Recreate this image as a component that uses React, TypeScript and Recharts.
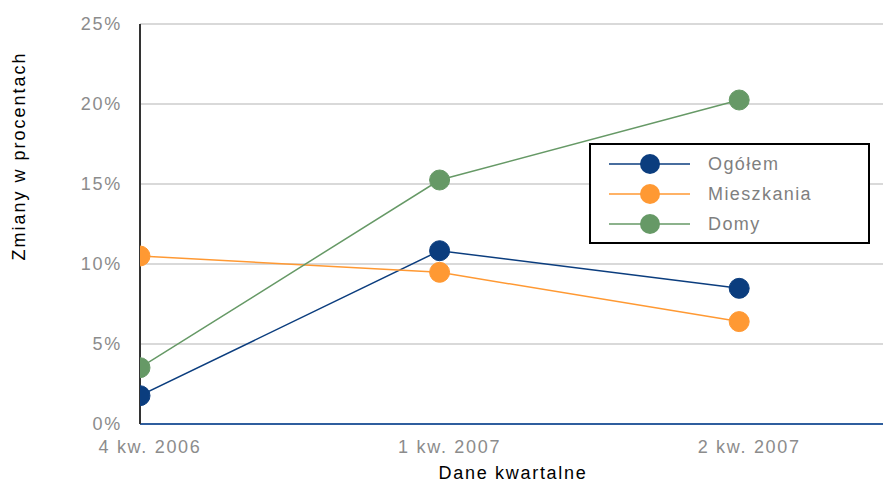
import React from 'react';
import { LineChart, Line, XAxis, YAxis, CartesianGrid, Legend, Label } from 'recharts';

const quarters = ['4 kw. 2006', '1 kw. 2007', '2 kw. 2007'];
const ogolem = [1.77, 10.83, 8.48];
const mieszkania = [10.5, 9.48, 6.4];
const domy = [3.52, 15.25, 20.25];
const yTicks = [0, 5, 10, 15, 20, 25];

const SERIES = [
  { key: 'ogolem', name: 'Ogółem', color: '#0b3d7e' },
  { key: 'mieszkania', name: 'Mieszkania', color: '#ff9933' },
  { key: 'domy', name: 'Domy', color: '#669966' },
];

const FONT = 'Arial, "Liberation Sans", sans-serif';
const SPACING = 1.7;

const data = quarters.map((q, i) => ({
  idx: i,
  quarter: q,
  ogolem: ogolem[i],
  mieszkania: mieszkania[i],
  domy: domy[i],
}));

const renderLegend = () => (
  <svg width={281} height={101} style={{ display: 'block', overflow: 'visible' }}>
    <rect x={1} y={1} width={279} height={99} fill="#fff" stroke="#000" strokeWidth={2} />
    {SERIES.map((s, i) => {
      const cy = 21 + i * 30;
      return (
        <g key={s.key}>
          <line x1={20} x2={101} y1={cy} y2={cy} stroke={s.color} strokeWidth={1.5} />
          <circle cx={61} cy={cy} r={10} fill={s.color} />
          <text x={119} y={cy} dominantBaseline="central" fill="#7f7f7f" fontSize={18} fontFamily={FONT} letterSpacing={1.4}>
            {s.name}
          </text>
        </g>
      );
    })}
  </svg>
);

export default function App() {
  return (
    <div style={{ position: 'absolute', left: 0, top: 0, width: 883, height: 484, overflow: 'hidden' }}>
      <LineChart width={883} height={484} data={data} margin={{ top: 24, right: 0, bottom: 0, left: 0 }}>
        <CartesianGrid vertical={false} stroke="#cccccc" strokeWidth={1.5} />
        <XAxis
          type="number"
          dataKey="idx"
          domain={[0, 2.48]}
          ticks={[0, 1, 2]}
          tickFormatter={(v: number) => quarters[v] ?? ''}
          height={60}
          axisLine={{ stroke: '#2f5e9e', strokeWidth: 2 }}
          tickLine={false}
          tickMargin={10}
          tick={{ fill: '#8c8c8c', fontSize: 18, fontFamily: FONT, dx: 10, letterSpacing: SPACING }}
          allowDataOverflow
        >
          <Label
            content={() => (
              <text x={513} y={479} textAnchor="middle" fill="#000" fontSize={18} fontFamily={FONT} letterSpacing={SPACING}>
                Dane kwartalne
              </text>
            )}
          />
        </XAxis>
        <YAxis
          width={140}
          domain={[0, 25]}
          ticks={yTicks}
          tickFormatter={(v: number) => `${v}%`}
          axisLine={{ stroke: '#333', strokeWidth: 2 }}
          tickLine={false}
          tickMargin={12}
          tick={{ fill: '#8c8c8c', fontSize: 18, fontFamily: FONT, letterSpacing: SPACING }}
        >
          <Label
            content={() => (
              <text
                x={19}
                y={156}
                transform="rotate(-90 19 156)"
                textAnchor="middle"
                dominantBaseline="central"
                fill="#000"
                fontSize={18}
                fontFamily={FONT}
                letterSpacing={2}
              >
                Zmiany w procentach
              </text>
            )}
          />
        </YAxis>
        <Legend
          content={renderLegend}
          wrapperStyle={{ position: 'absolute', left: 589, top: 143, width: 0, height: 0, overflow: 'visible' }}
        />
        {SERIES.map((s) => (
          <Line
            key={s.key}
            type="linear"
            dataKey={s.key}
            name={s.name}
            stroke={s.color}
            strokeWidth={1.5}
            dot={{ r: 10, fill: s.color, stroke: s.color, strokeWidth: 1 }}
            activeDot={false}
            isAnimationActive={false}
          />
        ))}
      </LineChart>
    </div>
  );
}
